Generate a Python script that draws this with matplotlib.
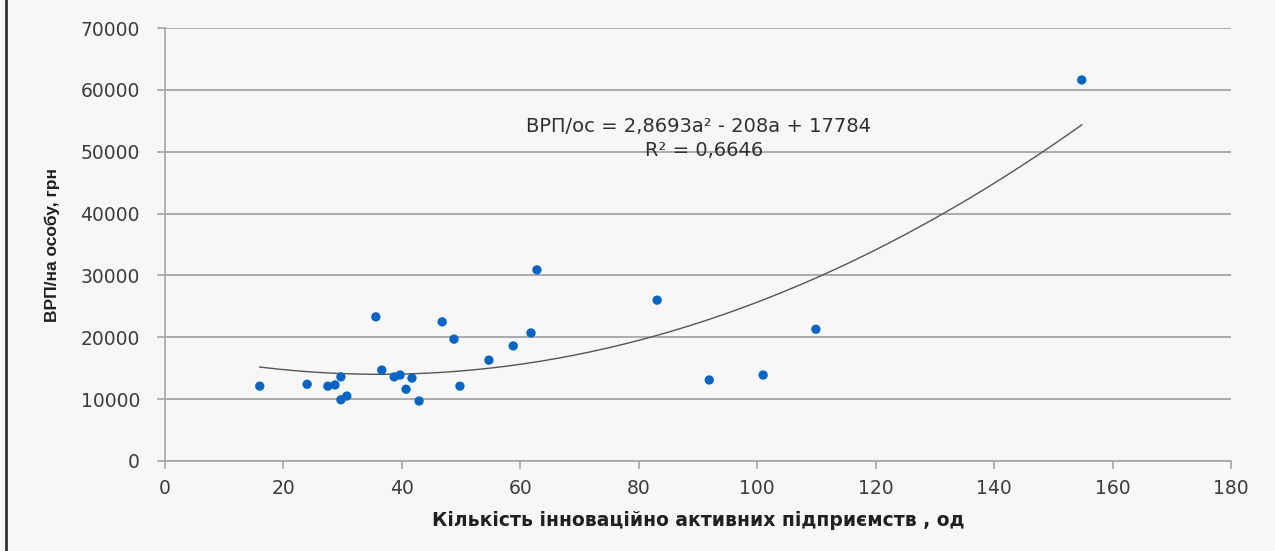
import matplotlib.pyplot as plt
import numpy as np
from matplotlib.lines import Line2D

# Кількість інноваційно активних підприємств, од
firms = [16, 24, 27.5, 28.7, 29.7, 29.7, 30.7, 35.6, 36.6, 38.7, 39.7, 40.7,
         41.7, 42.9, 46.8, 48.8, 49.8, 54.7, 58.8, 61.8, 62.8, 83.1, 91.9,
         101, 109.9, 154.8]
# ВРП на особу, грн
grp = [12100, 12400, 12100, 12300, 13600, 9900, 10500, 23300, 14700, 13600,
       13900, 11600, 13400, 9700, 22500, 19700, 12100, 16300, 18600, 20700,
       30900, 26000, 13100, 13900, 21300, 61600]

# trendline coefficients as printed on the chart (a2, a1, a0)
trend_coef = [2.8693, -208, 17784]
r2_text = "R² = 0,6646"
eq_text = "ВРП/ос = 2,8693a² - 208a + 17784"

x_ticks = list(range(0, 181, 20))
y_ticks = list(range(0, 70001, 10000))

BG = "#f7f7f7"
GRID = "#a6a6a6"
TICK = "#3c3c3c"
DOT = "#0a64c4"

plt.rcParams["font.family"] = ["DejaVu Sans"]

fig = plt.figure(figsize=(12.75, 5.51), dpi=100, facecolor=BG)
ax = fig.add_axes([165 / 1275, 1 - 461 / 551, 1066 / 1275, 433 / 551])
ax.set_facecolor(BG)

ax.set_xlim(0, 180)
ax.set_ylim(0, 70000)
ax.set_xticks(x_ticks)
ax.set_yticks(y_ticks)
ax.set_xticklabels([str(v) for v in x_ticks])
ax.set_yticklabels([str(v) for v in y_ticks])
ax.tick_params(axis="both", colors=GRID, labelcolor=TICK, labelsize=13.5,
               length=6, width=1.2, direction="out")
ax.tick_params(axis="x", pad=7)
ax.tick_params(axis="y", pad=12)

for side in ["top", "right"]:
    ax.spines[side].set_visible(False)
for side in ["left", "bottom"]:
    ax.spines[side].set_color(GRID)
    ax.spines[side].set_linewidth(1.2)

ax.yaxis.grid(True, color=GRID, linewidth=1.3)
ax.set_axisbelow(True)

# trendline over the data range
xs = np.linspace(min(firms), max(firms), 200)
ys = np.polyval(trend_coef, xs)
ax.plot(xs, ys, color="#555555", linewidth=1.0, zorder=2)

ax.scatter(firms, grp, s=45, color=DOT, edgecolors="none", zorder=3)

ax.text(90, 54150, eq_text, ha="center", va="center", fontsize=14,
        color="#303030")
ax.text(91, 50200, r2_text, ha="center", va="center", fontsize=14,
        color="#303030")

ax.set_xlabel("Кількість інноваційно активних підприємств , од",
              fontsize=13.5, fontweight="bold", color="#202020", labelpad=9)
ax.set_ylabel("ВРП/на особу, грн", fontsize=12.5, fontweight="bold",
              color="#202020", labelpad=15, family="Liberation Sans")

# dark frame line on the left edge of the picture
fig.add_artist(Line2D([6 / 1275, 6 / 1275], [0, 1], transform=fig.transFigure,
                      color="#333333", linewidth=2))

fig.savefig("out.png", dpi=100, facecolor=BG)
